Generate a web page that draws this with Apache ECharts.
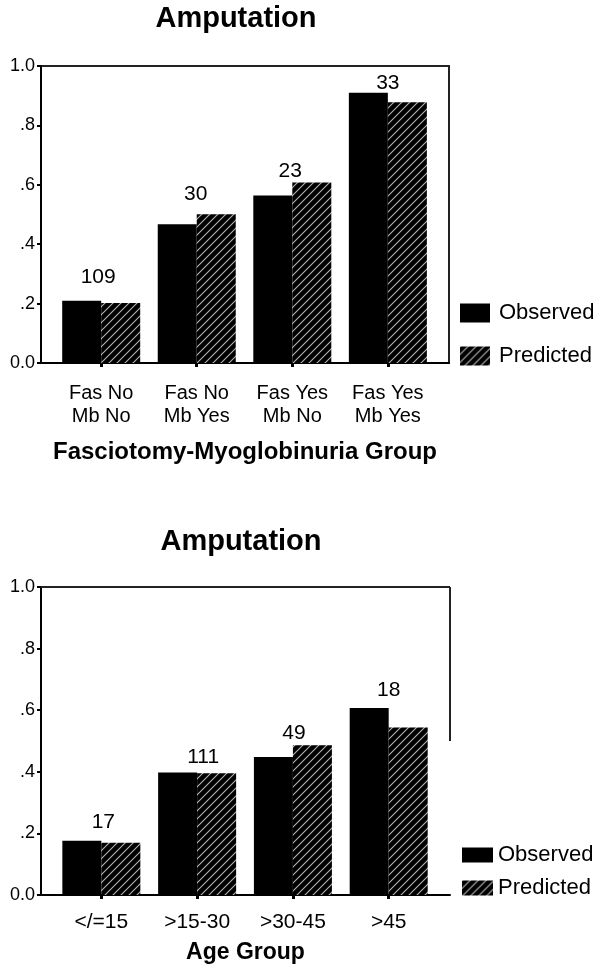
<!DOCTYPE html>
<html><head><meta charset="utf-8">
<script src="https://cdn.jsdelivr.net/npm/echarts@6/dist/echarts.min.js"></script>
<style>html,body{margin:0;padding:0;background:#fff}#c{width:604px;height:966px}</style>
</head><body><div id="c"></div>
<script>
// ---------- data ----------
const titleText = 'Amputation';
const seriesNames = ['Observed', 'Predicted'];
const yTickLabels = ['0.0', '.2', '.4', '.6', '.8', '1.0'];

const fasCategories = ['Fas No\nMb No', 'Fas No\nMb Yes', 'Fas Yes\nMb No', 'Fas Yes\nMb Yes'];
const fasObserved = [0.210, 0.467, 0.564, 0.910];
const fasPredicted = [0.202, 0.501, 0.608, 0.878];
const fasCounts = [109, 30, 23, 33];
const fasAxisName = 'Fasciotomy-Myoglobinuria Group';

const ageCategories = ['</=15', '>15-30', '>30-45', '>45'];
const ageObserved = [0.176, 0.398, 0.448, 0.607];
const agePredicted = [0.170, 0.395, 0.486, 0.544];
const ageCounts = [17, 111, 49, 18];
const ageAxisName = 'Age Group';

// ---------- style ----------
const FONT = '"Liberation Sans", Arial, Helvetica, sans-serif';
const fasLabelShift = [[-3, -8], [-1, -4], [-2, 4], [0, 6]];
const ageLabelShift = [[2, -3], [6, 0], [1, 3], [0, -2]];
const X_MIN = -0.63, X_MAX = 3.64;

function hatch() {
  const c = document.createElement('canvas');
  c.width = 8; c.height = 8;
  const g = c.getContext('2d');
  g.fillStyle = '#000'; g.fillRect(0, 0, 8, 8);
  g.strokeStyle = '#b4b4b4'; g.lineWidth = 1.1;
  g.beginPath();
  g.moveTo(0, 8); g.lineTo(8, 0);
  g.moveTo(-2, 2); g.lineTo(2, -2);
  g.moveTo(6, 10); g.lineTo(10, 6);
  g.stroke();
  return c;
}
const hatchFill = { image: hatch(), repeat: 'repeat' };
const tickIdx = [0, 1, 2, 3];

function yAxis(gi) {
  return {
    gridIndex: gi, type: 'value', min: 0, max: 1, interval: 0.2,
    axisLine: { show: true, onZero: false, lineStyle: { color: '#000', width: 2 } },
    axisTick: { show: true, length: 4, lineStyle: { color: '#000', width: 2 } },
    splitLine: { show: false },
    axisLabel: { margin: 6, fontSize: 18, color: '#000', fontFamily: FONT,
      formatter: v => yTickLabels[Math.round(v / 0.2)] }
  };
}
function xAxis(gi, cats, name, cfg) {
  return {
    gridIndex: gi, type: 'value', min: X_MIN, max: X_MAX,
    axisLine: { show: true, lineStyle: { color: '#000', width: 2 } },
    axisTick: { show: true, customValues: tickIdx, length: 4, lineStyle: { color: '#000', width: 3 } },
    splitLine: { show: false },
    axisLabel: { customValues: tickIdx, margin: cfg.labelMargin, fontSize: cfg.labelSize,
      lineHeight: cfg.labelLine, color: '#000', fontFamily: FONT,
      formatter: v => cats[Math.round(v)] },
    name: name, nameLocation: 'middle', nameGap: cfg.nameGap, nameMoveOverlap: false,
    nameTextStyle: { fontSize: cfg.nameSize, fontWeight: 'bold', color: '#000', fontFamily: FONT }
  };
}
function seriesFor(gi, obs, pred, counts, shift, extra) {
  const s = [
    { type: 'bar', name: seriesNames[0], xAxisIndex: gi, yAxisIndex: gi, barWidth: 39, barGap: '0%',
      itemStyle: { color: '#000' }, data: obs.map((v, i) => [i, v]), silent: true },
    { type: 'bar', name: seriesNames[1], xAxisIndex: gi, yAxisIndex: gi, barWidth: 39, barGap: '0%',
      itemStyle: { color: hatchFill }, data: pred.map((v, i) => [i, v]), silent: true },
    { type: 'scatter', name: 'n' + gi, xAxisIndex: gi, yAxisIndex: gi, symbolSize: 0, silent: true,
      itemStyle: { opacity: 1, color: '#000' },
      label: { show: true, position: 'top', fontSize: 21, color: '#000', opacity: 1, fontFamily: FONT,
        formatter: p => String(counts[p.dataIndex]) },
      data: counts.map((n, i) => ({ value: [i, Math.max(obs[i], pred[i])], label: { offset: shift[i] } })) }
  ];
  if (extra) Object.assign(s[2], extra);
  return s;
}

const chart = echarts.init(document.getElementById('c'), null, { renderer: 'canvas' });
chart.setOption({
  animation: false,
  backgroundColor: '#fff',
  textStyle: { fontFamily: FONT },
  title: [
    { text: titleText, left: 236, top: 4, textAlign: 'center', padding: 0,
      textStyle: { fontSize: 29, fontWeight: 'bold', color: '#000', fontFamily: FONT } },
    { text: titleText, left: 241, top: 527, textAlign: 'center', padding: 0,
      textStyle: { fontSize: 29, fontWeight: 'bold', color: '#000', fontFamily: FONT } }
  ],
  legend: [
    { left: 460, top: 302, padding: 0, orient: 'vertical', icon: 'rect', itemWidth: 30, itemHeight: 19, itemGap: 21,
      selectedMode: false, data: seriesNames,
      textStyle: { fontSize: 22, lineHeight: 19, color: '#000', fontFamily: FONT, padding: [0, 0, 0, 4] } },
    { left: 462, top: 844, padding: 0, orient: 'vertical', icon: 'rect', itemWidth: 31, itemHeight: 15, itemGap: 11,
      selectedMode: false, data: seriesNames,
      textStyle: { fontSize: 22, lineHeight: 15, color: '#000', fontFamily: FONT, padding: [0, 0, 0, 0] } }
  ],
  grid: [
    { left: 41, right: 155, top: 66, bottom: 603, show: true, borderColor: '#222', borderWidth: 2 },
    { left: 41, right: 154, top: 587, bottom: 71 }
  ],
  xAxis: [
    xAxis(0, fasCategories, fasAxisName, { labelMargin: 19, labelSize: 20, labelLine: 23, nameGap: 77, nameSize: 24 }),
    xAxis(1, ageCategories, ageAxisName, { labelMargin: 16, labelSize: 21, labelLine: 22, nameGap: 46, nameSize: 23 })
  ],
  yAxis: [yAxis(0), yAxis(1)],
  series: [
    ...seriesFor(0, fasObserved, fasPredicted, fasCounts, fasLabelShift),
    ...seriesFor(1, ageObserved, agePredicted, ageCounts, ageLabelShift, {
      markLine: { silent: true, symbol: ['none', 'none'], label: { show: false },
        lineStyle: { color: '#222', width: 2, type: 'solid' },
        data: [
          [{ coord: [X_MIN, 1] }, { coord: [X_MAX, 1] }],
          [{ coord: [X_MAX, 1] }, { coord: [X_MAX, 0.5] }]
        ] }
    })
  ]
});
</script></body></html>
